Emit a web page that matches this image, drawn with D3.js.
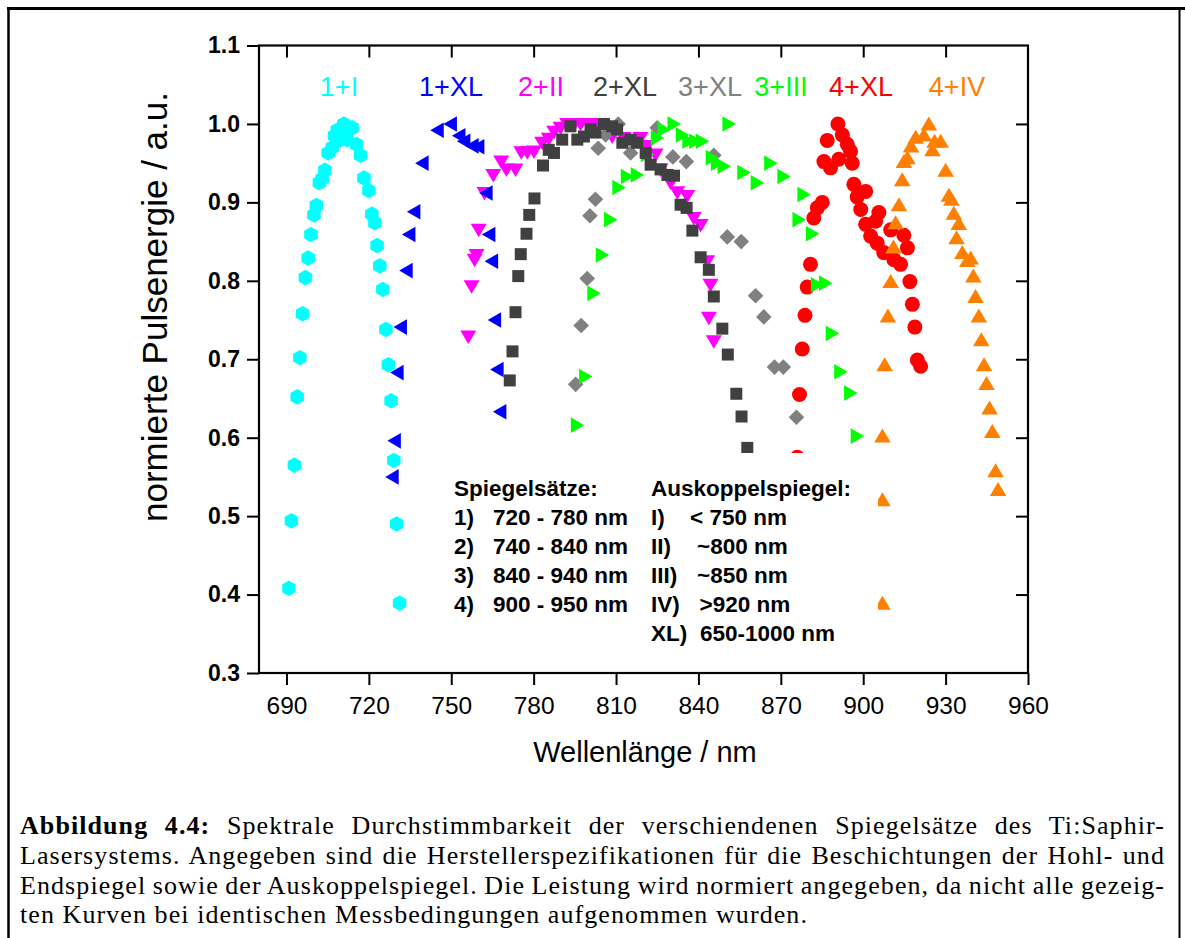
<!DOCTYPE html>
<html><head><meta charset="utf-8">
<script src="https://cdn.jsdelivr.net/npm/d3@7"></script>
<style>body{margin:0;background:#fff}svg{display:block}</style>
</head><body>
<svg id="c" width="1185" height="938"></svg>
<script>
// ---- data ----
const xTicks = [690,720,750,780,810,840,870,900,930,960];
const yTicks = [0.3,0.4,0.5,0.6,0.7,0.8,0.9,1.0,1.1];
const seriesNames = ["1+I","1+XL","2+II","2+XL","3+XL","3+III","4+XL","4+IV"];
const seriesColors = ["#00ffff","#0000ff","#ff00ff","#404040","#808080","#00ff00","#ff0000","#ff8000"];

const d_1I = [[690.9,0.408],[691.8,0.494],[692.9,0.565],[693.9,0.652],[694.9,0.702],[695.9,0.758],[696.9,0.804],[697.9,0.829],[698.9,0.859],[700.0,0.884],[700.9,0.896],[702.0,0.925],[703.0,0.930],[704.0,0.941],[705.2,0.963],[706.7,0.970],[707.5,0.985],[708.5,0.992],[709.7,0.980],[710.9,1.0],[711.5,0.990],[712.1,0.980],[713.9,0.995],[715.5,0.974],[717.0,0.960],[718.2,0.931],[720.0,0.915],[721.1,0.885],[722.2,0.874],[723.0,0.845],[724.0,0.819],[725.1,0.789],[726.2,0.738],[727.1,0.693],[728.1,0.647],[729.1,0.571],[730.1,0.490],[731.2,0.389]];
const d_1XL = [[728.5,0.550],[729.3,0.596],[730.3,0.683],[731.5,0.741],[733.6,0.813],[734.6,0.859],[736.4,0.888],[739.4,0.950],[744.9,0.992],[749.7,1.0],[752.8,0.985],[754.6,0.978],[757.6,0.972],[759.7,0.971],[762.7,0.912],[763.7,0.859],[764.7,0.825],[765.8,0.750],[766.7,0.687],[767.7,0.633]];
const d_2II = [[756.2,0.729],[757.4,0.793],[758.5,0.827],[759.2,0.833],[760.0,0.865],[762.1,0.912],[765.3,0.935],[768.2,0.952],[770.1,0.942],[773.4,0.942],[775.5,0.964],[777.7,0.964],[780.1,0.965],[783.1,0.976],[785.5,0.981],[787.5,0.990],[789.8,0.995],[792.2,1.0],[794.5,0.998],[797.1,1.0],[800.1,1.0],[803.2,1.0],[806.0,0.995],[808.6,0.984],[812.8,0.982],[818.9,0.982],[821.4,0.972],[824.4,0.961],[826.2,0.942],[829.9,0.925],[832.3,0.913],[835.9,0.908],[838.3,0.880],[840.8,0.871],[843.2,0.825],[844.4,0.795],[843.8,0.753],[845.6,0.723]];
const d_2XL = [[771.3,0.673],[772.3,0.710],[773.4,0.760],[774.4,0.806],[775.3,0.834],[777.4,0.860],[778.4,0.884],[780.3,0.905],[783.4,0.947],[785.5,0.967],[787.4,0.963],[790.4,0.980],[793.4,0.997],[795.9,0.980],[798.3,0.984],[800.7,0.993],[802.5,0.989],[805.6,1.0],[808.6,0.997],[810.4,0.993],[812.3,0.976],[815.3,0.980],[817.7,0.976],[820.8,0.963],[822.6,0.948],[826.2,0.942],[828.7,0.935],[831.1,0.934],[833.5,0.897],[835.7,0.893],[837.8,0.864],[840.8,0.830],[843.8,0.814],[845.6,0.780],[848.7,0.739],[850.7,0.706],[853.8,0.656],[855.7,0.627],[857.8,0.587]];
const d_3XL = [[795.3,0.668],[797.3,0.743],[799.5,0.803],[800.5,0.883],[802.5,0.904],[803.5,0.969],[806.2,0.986],[810.8,1.0],[815.3,0.963],[825.0,0.995],[830.7,0.958],[835.6,0.952],[845.6,0.960],[850.5,0.856],[855.6,0.850],[860.8,0.781],[863.8,0.754],[867.7,0.690],[870.9,0.690],[875.7,0.626]];
const d_3III = [[795.9,0.616],[798.9,0.678],[801.9,0.784],[805.0,0.833],[808.0,0.878],[811.0,0.919],[814.1,0.933],[817.7,0.935],[821.4,0.961],[825.0,0.982],[827.4,0.993],[831.1,1.0],[834.1,0.986],[836.5,0.978],[839.0,0.978],[841.4,0.978],[845.0,0.957],[846.9,0.950],[849.3,0.946],[851.1,1.0],[856.5,0.938],[861.4,0.925],[866.3,0.950],[871.1,0.933],[878.4,0.910],[876.6,0.878],[881.5,0.860],[883.3,0.795],[886.3,0.797],[888.7,0.733],[891.8,0.684],[895.4,0.657],[897.8,0.602]];
const d_4XL = [[876.0,0.575],[876.8,0.655],[877.8,0.713],[878.8,0.756],[879.6,0.792],[880.8,0.821],[882.0,0.880],[883.3,0.893],[885.1,0.900],[885.7,0.952],[886.9,0.979],[888.1,0.944],[890.8,1.0],[891.1,0.955],[892.4,0.986],[894.2,0.974],[895.4,0.965],[896.0,0.950],[896.6,0.923],[897.8,0.907],[899.1,0.891],[900.9,0.914],[900.9,0.872],[902.7,0.857],[904.5,0.876],[905.1,0.848],[905.7,0.887],[907.5,0.836],[910.0,0.865],[911.2,0.827],[913.6,0.821],[914.8,0.858],[916.1,0.842],[917.0,0.799],[917.9,0.770],[918.8,0.741],[919.7,0.699],[920.9,0.691]];
const d_4IV = [[907.0,0.389],[907.0,0.521],[907.0,0.602],[907.8,0.693],[909.0,0.755],[910.0,0.799],[911.0,0.843],[911.8,0.874],[913.0,0.897],[914.2,0.929],[914.8,0.952],[916.1,0.957],[917.4,0.972],[919.1,0.983],[922.1,0.986],[923.9,1.0],[925.2,0.967],[926.0,0.978],[928.2,0.978],[930.0,0.941],[931.2,0.909],[932.1,0.904],[933.0,0.886],[934.8,0.873],[934.0,0.855],[936.1,0.836],[937.9,0.826],[939.1,0.829],[940.1,0.806],[940.9,0.780],[942.1,0.755],[943.0,0.725],[944.0,0.693],[944.9,0.669],[946.0,0.638],[947.0,0.608],[948.2,0.558],[949.1,0.534]];

const legendLeft = [["Spiegelsätze:",""],["1)","720 - 780 nm"],["2)","740 - 840 nm"],["3)","840 - 940 nm"],["4)","900 - 950 nm"]];
const legendRight = [["Auskoppelspiegel:",""],["I)","< 750 nm"],["II)","~800 nm"],["III)","~850 nm"],["IV)",">920 nm"],["XL)","650-1000 nm"]];
const captionLines = [
  [["Abbildung 4.4:",true],[" Spektrale Durchstimmbarkeit der verschiendenen Spiegelsätze des Ti:Saphir-",false]],
  [["Lasersystems. Angegeben sind die Herstellerspezifikationen für die Beschichtungen der Hohl- und",false]],
  [["Endspiegel sowie der Auskoppelspiegel. Die Leistung wird normiert angegeben, da nicht alle gezeig-",false]],
  [["ten Kurven bei identischen Messbedingungen aufgenommen wurden.",false]]
];

// ---- layout ----
const L = 259, R = 1028, T = 45.5, B = 673;
const svg = d3.select("#c");
const SANS = "'Liberation Sans', Arial, sans-serif";
const x = d3.scaleLinear().domain([680,960]).range([L,R]);
const y = d3.scaleLinear().domain([0.3,1.1]).range([B,T]);

svg.append("rect").attr("width",1185).attr("height",938).attr("fill","#fff");

// outer frame
svg.append("line").attr("x1",7).attr("x2",1185).attr("y1",8.5).attr("y2",8.5).attr("stroke","#000").attr("stroke-width",3);
svg.append("line").attr("x1",8.5).attr("x2",8.5).attr("y1",7).attr("y2",938).attr("stroke","#000").attr("stroke-width",2.5);
svg.append("line").attr("x1",1179.5).attr("x2",1179.5).attr("y1",7).attr("y2",938).attr("stroke","#000").attr("stroke-width",2);

// marker shapes
const shapes = {
  hex: r => { const p=[]; for(let i=0;i<6;i++){const a=Math.PI/180*(60*i-90); p.push([r*Math.cos(a), r*Math.sin(a)]);} return "M"+p.map(d=>d.join(",")).join("L")+"Z"; },
  triLeft: () => "M-7,0L6.5,-7.8L6.5,7.8Z",
  triDown: () => "M-8,-6L8,-6L0,7.5Z",
  triRight: () => "M7,0L-6.5,-7.8L-6.5,7.8Z",
  triUp: () => "M0,-7.5L8.3,6.5L-8.3,6.5Z",
  square: () => "M-6,-6H6V6H-6Z",
  diamond: () => "M0,-7.8L7.8,0L0,7.8L-7.8,0Z",
  circle: () => d3.symbol(d3.symbolCircle, Math.PI*7.5*7.5)()
};

const series = [
  {data:d_2II, color:seriesColors[2], path:shapes.triDown()},
  {data:d_1I, color:seriesColors[0], path:shapes.hex(7.8)},
  {data:d_1XL, color:seriesColors[1], path:shapes.triLeft()},
  {data:d_3XL, color:seriesColors[4], path:shapes.diamond()},
  {data:d_4XL, color:seriesColors[6], path:shapes.circle()},
  {data:d_4IV, color:seriesColors[7], path:shapes.triUp()},
  {data:d_3III, color:seriesColors[5], path:shapes.triRight()},
  {data:d_2XL, color:seriesColors[3], path:shapes.square()}
];

const plot = svg.append("g");
series.forEach(s => {
  plot.append("g").selectAll("path").data(s.data).join("path")
    .attr("d", s.path)
    .attr("transform", d => `translate(${x(d[0])},${y(d[1])})`)
    .attr("fill", s.color);
});

// legend box (white, covers points)
svg.append("rect").attr("x",445).attr("y",453).attr("width",433).attr("height",200).attr("fill","#fff");
const lg = svg.append("g").attr("font-family",SANS).attr("font-weight","bold").attr("font-size",22.5).attr("fill","#000");
legendLeft.forEach((r,i) => {
  const by = i===0 ? 496 : 525 + (i-1)*29;
  lg.append("text").attr("x",454).attr("y",by).text(r[0]);
  if(r[1]) lg.append("text").attr("x",493).attr("y",by).text(r[1]);
});
const rx2 = [0,690,697,697,699.5,700];
legendRight.forEach((r,i) => {
  const by = i===0 ? 496 : 525 + (i-1)*29;
  lg.append("text").attr("x",651).attr("y",by).text(r[0]);
  if(r[1]) lg.append("text").attr("x",rx2[i]).attr("y",by).text(r[1]);
});

// axes
const gB = svg.append("g").attr("transform",`translate(0,${B})`)
  .call(d3.axisBottom(x).tickValues(xTicks).tickSize(12).tickPadding(12).tickFormat(d3.format("d")));
const gTop = svg.append("g").attr("transform",`translate(0,${T})`)
  .call(d3.axisBottom(x).tickValues(xTicks.slice(0,-1)).tickSize(12).tickFormat(""));
const gL = svg.append("g").attr("transform",`translate(${L},0)`)
  .call(d3.axisLeft(y).tickValues(yTicks).tickSize(12).tickPadding(7).tickFormat(d3.format(".1f")));
const gR = svg.append("g").attr("transform",`translate(${R},0)`)
  .call(d3.axisLeft(y).tickValues(yTicks.slice(1,-1)).tickSize(12).tickFormat(""));
[gB,gTop,gL,gR].forEach(g => {
  g.select(".domain").remove();
  g.selectAll(".tick line").attr("stroke","#000").attr("stroke-width",2);
});
gB.selectAll("text").attr("font-family",SANS).attr("font-size",24.5).attr("fill","#000");
gL.selectAll("text").attr("font-family",SANS).attr("font-size",23).attr("font-weight","bold").attr("fill","#000");

svg.append("rect").attr("x",L).attr("y",T).attr("width",R-L).attr("height",B-T)
  .attr("fill","none").attr("stroke","#000").attr("stroke-width",2.2);

// series labels at top
const labelX = [339,451,541,625,710,781,861,957];
seriesNames.forEach((n,i) => {
  svg.append("text").attr("x",labelX[i]).attr("y",96).attr("text-anchor","middle")
    .attr("font-family",SANS).attr("font-size",27).attr("fill",seriesColors[i]).text(n);
});

// axis titles
svg.append("text").attr("x",645).attr("y",762).attr("text-anchor","middle")
  .attr("font-family",SANS).attr("font-size",29).text("Wellenlänge / nm");
svg.append("text").attr("transform","translate(167,307) rotate(-90)").attr("text-anchor","middle")
  .attr("font-family",SANS).attr("font-size",35).text("normierte Pulsenergie / a.u.");

// caption: letter spacing fitted to last line, other lines justified by word spacing
const SERIF = "'Liberation Serif', 'Times New Roman', serif";
const capY = [834,864,894,923];
const FS = 26;
const capTexts = captionLines.map((parts,i) => {
  const t = svg.append("text").attr("x",20).attr("y",capY[i]).attr("font-family",SERIF).attr("font-size",FS).attr("fill","#000").attr("xml:space","preserve");
  parts.forEach(p => t.append("tspan").attr("font-weight",p[1]?"bold":"normal").text(p[0]));
  return t;
});
const t4 = capTexts[3];
const nat4 = t4.node().getComputedTextLength();
const ls = Math.max(0, (788 - nat4) / t4.text().length);
capTexts.forEach(t => t.attr("letter-spacing", ls));
capTexts.forEach((t,i) => {
  if (i === 3) return;
  const nat = t.node().getComputedTextLength();
  const nSpaces = (t.text().match(/ /g)||[]).length;
  t.attr("word-spacing", (1145 - nat) / nSpaces);
});
</script>
</body></html>
